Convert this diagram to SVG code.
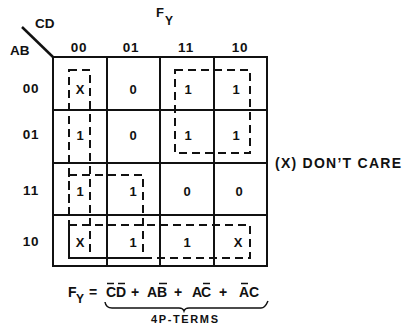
<svg xmlns="http://www.w3.org/2000/svg" width="405" height="331" viewBox="0 0 405 331">
<style>
text{font-family:"Liberation Sans",Arial,sans-serif;font-weight:bold;fill:#111}
.h{font-size:13.5px;text-anchor:middle;letter-spacing:0.8px}
.c{font-size:13px;text-anchor:middle}
.eq{font-size:14px}
.grid{stroke:#111;stroke-width:2;fill:none}
.loop{stroke:#111;stroke-width:2;fill:none;stroke-dasharray:8 5}
.bar{stroke:#111;stroke-width:1.5}
</style>
<rect width="405" height="331" fill="#fff"/>
<g id="title">
<text x="156" y="17" font-size="13">F</text>
<text x="165" y="25" font-size="12">Y</text>
</g>
<g id="axis">
<line x1="22" y1="27" x2="54" y2="58" stroke="#111" stroke-width="2.5"/>
<text x="35" y="28" font-size="13.5">CD</text>
<text x="10" y="55" font-size="13.5">AB</text>
</g>
<g id="colhead">
<text class="h" x="79" y="52">00</text>
<text class="h" x="131" y="52">01</text>
<text class="h" x="186" y="52">11</text>
<text class="h" x="240" y="52">10</text>
</g>
<g id="rowhead">
<text class="h" x="31" y="93">00</text>
<text class="h" x="31" y="139">01</text>
<text class="h" x="31" y="195">11</text>
<text class="h" x="31" y="246">10</text>
</g>
<g id="grid">
<rect x="53" y="57" width="214" height="209" class="grid" stroke-width="3"/>
<line class="grid" x1="107" y1="57" x2="107" y2="266"/>
<line class="grid" x1="160" y1="57" x2="160" y2="266"/>
<line class="grid" x1="214" y1="57" x2="214" y2="266"/>
<line class="grid" x1="53" y1="110" x2="267" y2="110"/>
<line class="grid" x1="53" y1="163" x2="267" y2="163"/>
<line class="grid" x1="53" y1="215" x2="267" y2="215"/>
</g>
<g id="cells">
<text class="c" x="80" y="94">X</text>
<text class="c" x="133" y="94">0</text>
<text class="c" x="188" y="94">1</text>
<text class="c" x="236" y="94">1</text>
<text class="c" x="80" y="140">1</text>
<text class="c" x="133" y="140">0</text>
<text class="c" x="188" y="140">1</text>
<text class="c" x="236" y="140">1</text>
<text class="c" x="80" y="196">1</text>
<text class="c" x="133" y="196">1</text>
<text class="c" x="187" y="196">0</text>
<text class="c" x="239" y="196">0</text>
<text class="c" x="80" y="247">X</text>
<text class="c" x="133" y="247">1</text>
<text class="c" x="187" y="247">1</text>
<text class="c" x="238" y="247">X</text>
</g>
<g id="loops">
<rect class="loop" x="69" y="70" width="21" height="188"/>
<rect class="loop" x="175" y="70" width="75" height="83"/>
<rect class="loop" x="69" y="175" width="74" height="83"/>
<rect class="loop" x="69" y="225" width="181" height="33"/>
</g>
<g id="note">
<text x="275" y="168" font-size="14" textLength="126" lengthAdjust="spacing">(X) DON’T CARE</text>
</g>
<g id="equation">
<text class="eq" y="297"><tspan x="68">F</tspan></text>
<text y="303" font-size="12" x="76">Y</text>
<text class="eq" y="297"><tspan x="89">=</tspan><tspan x="106">C</tspan><tspan x="116">D</tspan><tspan x="131">+</tspan><tspan x="147">A</tspan><tspan x="157">B</tspan><tspan x="174">+</tspan><tspan x="192">A</tspan><tspan x="201">C</tspan><tspan x="219">+</tspan><tspan x="239">A</tspan><tspan x="249">C</tspan></text>
<line class="bar" x1="107" y1="283.5" x2="114" y2="283.5"/>
<line class="bar" x1="118" y1="283.5" x2="125" y2="283.5"/>
<line class="bar" x1="159" y1="283.5" x2="167" y2="283.5"/>
<line class="bar" x1="203" y1="283.5" x2="210" y2="283.5"/>
<line class="bar" x1="241" y1="283.5" x2="248" y2="283.5"/>
<path d="M105 302 Q106 308 112 308 L179 308 Q183 308 184 311 Q185 308 189 308 L261 308 Q265 308 268 301" fill="none" stroke="#111" stroke-width="1.5"/>
<text x="151" y="323" font-size="11" textLength="67" lengthAdjust="spacing">4P-TERMS</text>
</g>
</svg>
